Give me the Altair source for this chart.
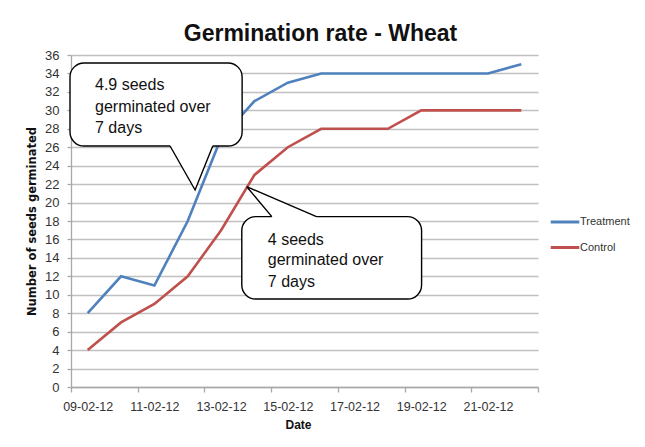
import json
import altair as alt
import pandas as pd

# ---------------- data ----------------
dates = ["09-02-12", "10-02-12", "11-02-12", "12-02-12", "13-02-12", "14-02-12", "15-02-12",
         "16-02-12", "17-02-12", "18-02-12", "19-02-12", "20-02-12", "21-02-12", "22-02-12"]
treatment = [8, 12, 11, 18, 27, 31, 33, 34, 34, 34, 34, 34, 34, 35]
control = [4, 7, 9, 12, 17, 23, 26, 28, 28, 28, 30, 30, 30, 30]
series_names = ["Treatment", "Control"]
y_ticks = list(range(0, 37, 2))
x_ticks = [-0.5, 1.5, 3.5, 5.5, 7.5, 9.5, 11.5, 13.5]   # category boundaries (day index)

callout1_lines = ["4.9 seeds", "germinated over", "7 days"]
callout2_lines = ["4 seeds", "germinated over", "7 days"]

# ---------------- annotation anchors (data units) ----------------
box1 = {"day": -0.53, "day2": 4.63, "value": 35.13, "value2": 26.13}
tail1 = [(2.47, 26.13), (3.22, 21.36), (3.75, 26.13)]
text1_x, text1_y = 0.22, [32.75, 30.36, 28.08]
box2 = {"day": 4.62, "day2": 10.01, "value": 18.47, "value2": 9.54}
tail2 = [(5.52, 18.47), (4.77, 21.72), (6.86, 18.47)]
text2_x, text2_y = 5.40, [15.94, 13.77, 11.42]

# ---------------- styles ----------------
BLUE, RED = "#4F81BD", "#C0504D"
GRID = "#c0c0c0"
AXIS = "#a8a8a8"
FONT = "Liberation Sans"

rows = []
for i, d in enumerate(dates):
    rows.append({"day": i, "date": d, "series": "Treatment", "value": treatment[i]})
    rows.append({"day": i, "date": d, "series": "Control", "value": control[i]})
df = pd.DataFrame(rows)

x_scale = alt.Scale(domain=[-0.5, 13.5], nice=False, zero=False)
y_scale = alt.Scale(domain=[0, 36], nice=False)

label_expr = f"{json.dumps(dates)}[round(datum.value + 0.5)] || ''"

x_axis = alt.Axis(values=x_ticks, labelExpr=label_expr, labelOffset=16.68,
                  labelFlush=False, labelOverlap=False, grid=False,
                  tickSize=5, tickColor=AXIS, domainColor=AXIS, domainWidth=1.3,
                  tickWidth=1.3, labelPadding=8, labelFontSize=12.5, labelFont=FONT,
                  labelColor="#333333",
                  title="Date", titleFont=FONT, titleFontSize=12, titleFontWeight="bold",
                  titleColor="#111111", titleX=227, titleY=37, titleAlign="center",
                  titleBaseline="middle")
y_axis = alt.Axis(values=y_ticks, grid=True, gridColor=GRID, gridWidth=1.3,
                  domainColor=AXIS, domainWidth=1.3, tickColor=AXIS, tickSize=4,
                  tickWidth=1.3, labelPadding=8, labelFontSize=13, labelFont=FONT,
                  labelColor="#333333", labelOverlap=False,
                  title="Number of seeds germinated", titleFont="DejaVu Sans",
                  titleFontSize=11.5, titleFontWeight="bold", titleColor="#111111",
                  titleAngle=270, titleX=-39, titleY=166, titleAlign="center",
                  titleBaseline="middle")


def X(f):
    return alt.X(f, scale=x_scale, axis=x_axis)


def Y(f):
    return alt.Y(f, scale=y_scale, axis=y_axis)


lines = alt.Chart(df).mark_line(strokeWidth=2.6).encode(
    x=X("day:Q"),
    y=Y("value:Q"),
    color=alt.Color("series:N", scale=alt.Scale(domain=series_names, range=[BLUE, RED]),
                    legend=alt.Legend(title=None, orient="none", legendX=485, legendY=158,
                                      symbolType="M-2,0H2", symbolSize=204, symbolStrokeWidth=3,
                                      labelFontSize=11, labelFont=FONT, labelColor="#333333",
                                      labelOffset=6, rowPadding=10.5, padding=0)),
    order=alt.Order("day:Q"),
)

boxes = pd.DataFrame([box1, box2])
rects = alt.Chart(boxes).mark_rect(cornerRadius=14, fill="white", stroke="black",
                                   strokeWidth=1.4).encode(
    x=X("day:Q"), x2="day2:Q", y=Y("value:Q"), y2="value2:Q",
)

t1 = pd.DataFrame({"day": [p[0] for p in tail1], "value": [p[1] for p in tail1],
                   "value2": [box1["value2"] + 0.3] * 3})
fill1 = alt.Chart(t1).mark_area(fill="white", opacity=1).encode(
    x=X("day:Q"), y=Y("value:Q"), y2="value2:Q")

t2 = pd.DataFrame({"value": [tail2[1][1], tail2[0][1], box2["value"] - 0.3],
                   "day": [tail2[1][0], tail2[0][0], tail2[0][0]],
                   "day2": [tail2[1][0], tail2[2][0], tail2[2][0]]})
fill2 = alt.Chart(t2).mark_area(fill="white", opacity=1, orient="horizontal").encode(
    y=Y("value:Q"), x=X("day:Q"), x2="day2:Q")

edges = pd.DataFrame(
    [{"tail": "a", "k": k, "day": p[0], "value": p[1]} for k, p in enumerate(tail1)] +
    [{"tail": "b", "k": k, "day": p[0], "value": p[1]} for k, p in enumerate(tail2)])
edge_lines = alt.Chart(edges).mark_line(color="black", strokeWidth=1.4).encode(
    x=X("day:Q"), y=Y("value:Q"), detail="tail:N", order=alt.Order("k:Q"))

texts = pd.DataFrame(
    [{"day": text1_x, "value": y, "txt": t} for y, t in zip(text1_y, callout1_lines)] +
    [{"day": text2_x, "value": y, "txt": t} for y, t in zip(text2_y, callout2_lines)])
labels = alt.Chart(texts).mark_text(align="left", baseline="middle", fontSize=16, font=FONT,
                                    color="#111111").encode(
    x=X("day:Q"), y=Y("value:Q"), text="txt:N")

chart = alt.layer(lines, rects, fill1, fill2, edge_lines, labels).properties(
    width=467, height=332,
    title=alt.TitleParams("Germination rate - Wheat", font="Liberation Sans Narrow, Liberation Sans",
                          fontSize=23, fontWeight="bold", color="#111111", anchor="middle",
                          dx=16, offset=3),
    autosize=alt.AutoSizeParams(type="none"),
    padding={"left": 63, "top": 47, "right": 99, "bottom": 52},
    background="white",
).configure_view(stroke=None)

chart.save("out.html", embed_options={"renderer": "svg", "actions": False})
